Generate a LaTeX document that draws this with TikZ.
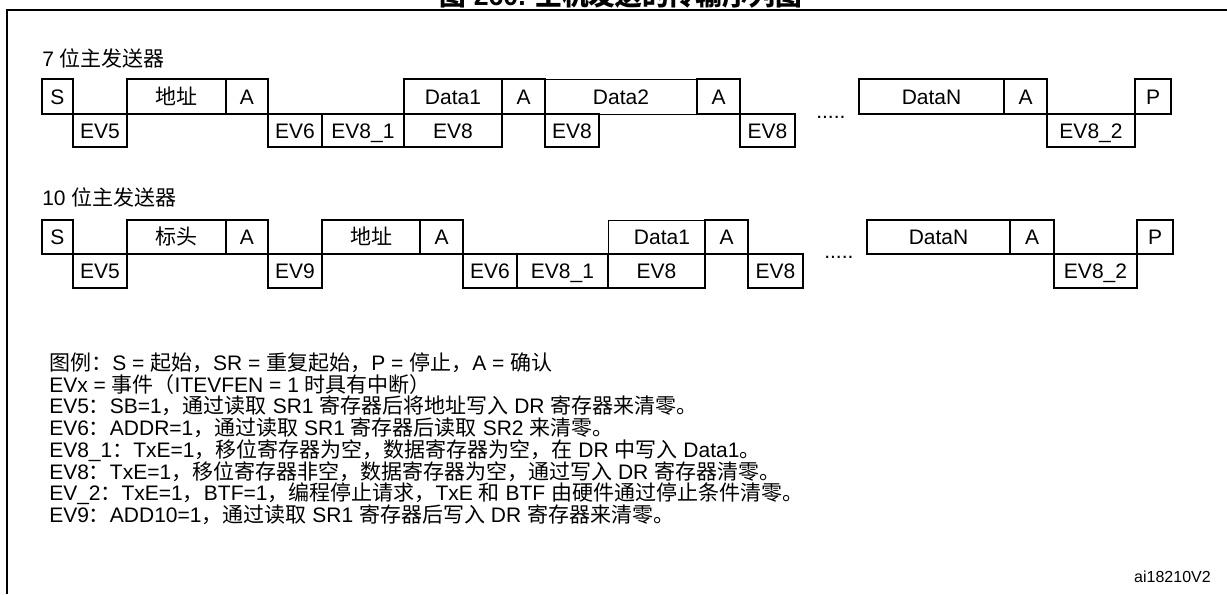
\documentclass[tikz,border=0pt]{standalone}
\usepackage{fontspec}
\setmainfont{Liberation Sans}
\newfontfamily\zh{Noto Sans CJK SC}
\usetikzlibrary{positioning}
\newcommand{\txtsize}{\fontsize{15.75pt}{18pt}\selectfont}

\begin{document}
\begin{tikzpicture}[
    x=0.75pt,
    y=-0.75pt,
    font=\txtsize,
    cell/.style={draw, line width=1.3pt},
    thincell/.style={draw, line width=0.6pt},
    celltext/.style={anchor=base, inner sep=0pt},
    legendtext/.style={anchor=base west, inner sep=0pt}
]
\useasboundingbox (0,0) rectangle (1227,594);

% Title (cut by the page edge)
\node[anchor=base, inner sep=0pt, font=\bfseries\fontsize{20pt}{22pt}\selectfont] (title) at (621,5)
  {{\zh 图} 260. {\zh 主机发送的传输序列图}};

% Frame
\draw[line width=1.5pt] (7,594) -- (7,10) -- (1227,10);

% 7-bit master transmitter
\node[legendtext] (sevhead) at (42,66) {7 {\zh 位主发送器}};

\draw[thincell] (545,79) rectangle (697,114);
\node[celltext] (sevdata2) at (621,104) {Data2};

\foreach \a/\b/\lab [count=\i] in {42/73/S, 127/226/{\zh 地址}, 226/268/A, 404/502/Data1,
    502/545/A, 697/740/A, 859/1004/DataN, 1004/1047/A, 1135/1171/P}{
  \draw[cell] (\a,79) rectangle (\b,114);
  \node[celltext] (sevtop\i) at ({(\a+\b)/2},104) {\lab};
}

\foreach \a/\b/\lab [count=\i] in {73/127/EV5, 268/322/EV6, 322/404/EV8\_1, 404/502/EV8,
    545/599/EV8, 740/795/EV8, 1047/1135/EV8\_2}{
  \draw[cell] (\a,114) rectangle (\b,147);
  \node[celltext] (sevbot\i) at ({(\a+\b)/2},138) {\lab};
}

\node[legendtext] (sevdots) at (816,118) {.....};

% 10-bit master transmitter
\node[legendtext] (tenhead) at (42,205) {10 {\zh 位主发送器}};

\draw[thincell] (608,220) rectangle (705,254);
\node[celltext] (tendata1) at (662,244) {Data1};

\foreach \a/\b/\lab [count=\i] in {42/73/S, 127/226/{\zh 标头}, 226/268/A, 322/420/{\zh 地址},
    420/463/A, 705/748/A, 867/1010/DataN, 1010/1054/A, 1137/1173/P}{
  \draw[cell] (\a,220) rectangle (\b,254);
  \node[celltext] (tentop\i) at ({(\a+\b)/2},244) {\lab};
}

\foreach \a/\b/\lab [count=\i] in {73/127/EV5, 268/322/EV9, 463/517/EV6, 517/608/EV8\_1,
    608/705/EV8, 748/803/EV8, 1054/1137/EV8\_2}{
  \draw[cell] (\a,254) rectangle (\b,288);
  \node[celltext] (tenbot\i) at ({(\a+\b)/2},278) {\lab};
}

\node[legendtext] (tendots) at (824,258) {.....};

% Legend
\node[legendtext] (leg1) at (49,370.5) {{\zh 图例：}S = {\zh 起始，}SR = {\zh 重复起始，}P = {\zh 停止，}A = {\zh 确认}};
\node[legendtext] (leg2) at (49,392.2) {EVx = {\zh 事件（}ITEVFEN = 1 {\zh 时具有中断）}};
\node[legendtext] (leg3) at (49,413.9) {EV5{\zh ：}SB=1{\zh ，通过读取} SR1 {\zh 寄存器后将地址写入} DR {\zh 寄存器来清零。}};
\node[legendtext] (leg4) at (49,435.6) {EV6{\zh ：}ADDR=1{\zh ，通过读取} SR1 {\zh 寄存器后读取} SR2 {\zh 来清零。}};
\node[legendtext] (leg5) at (49,457.3) {EV8\_1{\zh ：}TxE=1{\zh ，移位寄存器为空，数据寄存器为空，在} DR {\zh 中写入} Data1{\zh 。}};
\node[legendtext] (leg6) at (49,479.0) {EV8{\zh ：}TxE=1{\zh ，移位寄存器非空，数据寄存器为空，通过写入} DR {\zh 寄存器清零。}};
\node[legendtext] (leg7) at (49,500.7) {EV\_2{\zh ：}TxE=1{\zh ，}BTF=1{\zh ，编程停止请求，}TxE {\zh 和} BTF {\zh 由硬件通过停止条件清零。}};
\node[legendtext] (leg8) at (49,522.4) {EV9{\zh ：}ADD10=1{\zh ，通过读取} SR1 {\zh 寄存器后写入} DR {\zh 寄存器来清零。}};

% Figure id
\node[anchor=base east, inner sep=0pt, font=\fontsize{12pt}{14pt}\selectfont] (figid) at (1211,582) {ai18210V2};

\end{tikzpicture}
\end{document}
